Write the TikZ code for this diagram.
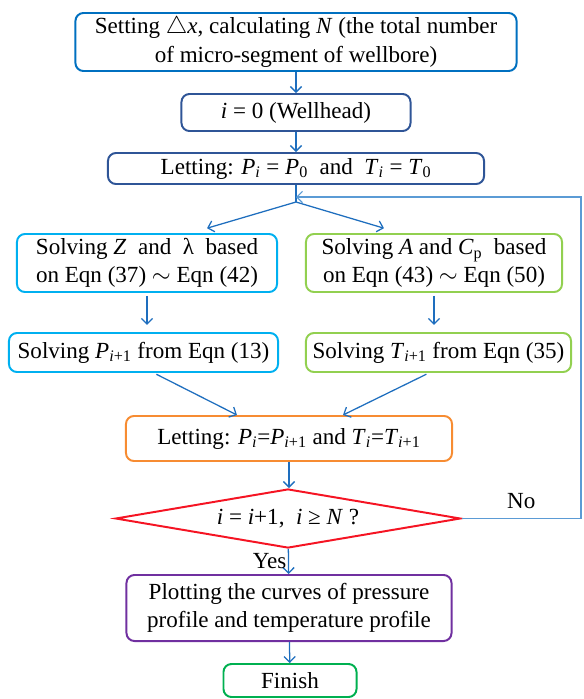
\documentclass[tikz,border=0pt]{standalone}
\usepackage{fontspec}
\setmainfont{Liberation Serif}
\usetikzlibrary{shapes.geometric,arrows.meta}

\definecolor{boxblue}{RGB}{0,112,192}
\definecolor{navyblue}{RGB}{47,85,151}
\definecolor{skyblue}{RGB}{0,176,240}
\definecolor{leafgreen}{RGB}{146,208,80}
\definecolor{orangeline}{RGB}{247,140,50}
\definecolor{redline}{RGB}{245,20,35}
\definecolor{purpleline}{RGB}{112,48,160}
\definecolor{finishgreen}{RGB}{0,176,80}
\definecolor{arrowblue}{RGB}{30,110,190}
\definecolor{backblue}{RGB}{91,155,213}

\newcommand{\vsub}[2]{\textit{#1}\textsubscript{#2}}

\begin{document}
\begin{tikzpicture}[x=0.025cm, y=-0.025cm, >={Straight Barb[length=4pt,width=8pt]},
    flowbox/.style={draw, rounded corners=0.2cm, line width=1.4pt, align=center,
      inner sep=2pt, font=\fontsize{16.4}{20}\selectfont},
    flow/.style={->, draw=arrowblue, line width=0.9pt},
    backline/.style={draw=backblue, line width=0.8pt}]
  \useasboundingbox (0,0) rectangle (584,699);

  % Top: set-up steps
  \node[flowbox, draw=boxblue, minimum width=11.025cm, minimum height=1.45cm] (set) at (296,42)
    {Setting $\triangle$\textit{x}, calculating \textit{N} (the total number\\of micro-segment of wellbore)};
  \node[flowbox, draw=navyblue, minimum width=5.725cm, minimum height=0.925cm] (init) at (296,112.5)
    {\textit{i} = 0 (Wellhead)};
  \node[flowbox, draw=navyblue, minimum width=9.4cm, minimum height=0.775cm] (letzero) at (296,168.5)
    {Letting: \vsub{P}{\textit{i}} = \vsub{P}{0} \ and \ \vsub{T}{\textit{i}} = \vsub{T}{0}};
  \coordinate (back) at (296,197);
  \coordinate (split) at (296,202);

  % Two branches
  \node[flowbox, draw=skyblue, minimum width=6.5cm, minimum height=1.45cm] (zlam) at (147,263)
    {Solving \textit{Z} \ and \ λ \ based\\on Eqn (37) $\sim$ Eqn (42)};
  \node[flowbox, draw=leafgreen, minimum width=6.4cm, minimum height=1.45cm] (acp) at (434,263)
    {Solving \textit{A} and \vsub{C}{p} \ based\\on Eqn (43) $\sim$ Eqn (50)};
  \node[flowbox, draw=skyblue, minimum width=6.725cm, minimum height=0.975cm] (solP) at (143.5,352.5)
    {Solving \vsub{P}{\textit{i}+1} from Eqn (13)};
  \node[flowbox, draw=leafgreen, minimum width=6.625cm, minimum height=0.975cm] (solT) at (438.5,352.5)
    {Solving \vsub{T}{\textit{i}+1} from Eqn (35)};

  % Merge, check and finish
  \node[flowbox, draw=orangeline, minimum width=8.15cm, minimum height=1.125cm] (upd) at (289,438.5)
    {Letting: \vsub{P}{\textit{i}}=\vsub{P}{\textit{i}+1} and \vsub{T}{\textit{i}}=\vsub{T}{\textit{i}+1}};
  \node[diamond, aspect=5.85, draw=redline, line width=1.4pt, minimum width=8.625cm, minimum height=1.475cm,
    inner sep=0pt, font=\fontsize{16.4}{20}\selectfont] (check) at (288,518.5)
    {\textit{i} = \textit{i}+1,\ \ \textit{i} ≥ \textit{N} ?};
  \node[flowbox, draw=purpleline, minimum width=8.125cm, minimum height=1.65cm] (plot) at (289,608)
    {Plotting the curves of pressure\\profile and temperature profile};
  \node[flowbox, draw=finishgreen, minimum width=3.325cm, minimum height=0.825cm] (finish) at (290,680.5)
    {Finish};

  % Arrows
  \draw[flow] (set) -- (init);
  \draw[flow] (init) -- (letzero);
  \draw[flow, -] (letzero) -- (split);
  \draw[flow] (split) -- ([xshift=1.5cm,yshift=0.12cm]zlam.north);
  \draw[flow] (split) -- ([xshift=-1.25cm,yshift=0.12cm]acp.north);
  \draw[flow, shorten <=2pt, shorten >=5pt] (zlam.south) -- (zlam.south |- solP.north);
  \draw[flow, shorten <=2pt, shorten >=5pt] (acp.south) -- (acp.south |- solT.north);
  \draw[flow, shorten <=2pt] ([xshift=0.26cm]solP.south) -- ([xshift=-1.3cm]upd.north);
  \draw[flow, shorten <=2pt] ([xshift=-0.24cm]solT.south) -- ([xshift=1.35cm]upd.north);
  \draw[flow] (upd.south) -- (upd.south |- check.north);
  \draw[flow] (check) -- (plot)
    node[midway, left, inner sep=1pt, font=\fontsize{16.4}{20}\selectfont] {Yes};
  \draw[flow] (plot) -- (finish);

  % Loop back when i < N
  \coordinate (turnlow) at (581,518.5);
  \coordinate (turnhigh) at (581,197);
  \draw[backline] (check.east) -- (turnlow)
    node[midway, above=3pt, font=\fontsize{16.4}{20}\selectfont] {No};
  \draw[backline, ->] (turnlow) -- (turnhigh) -- (back);
\end{tikzpicture}
\end{document}
